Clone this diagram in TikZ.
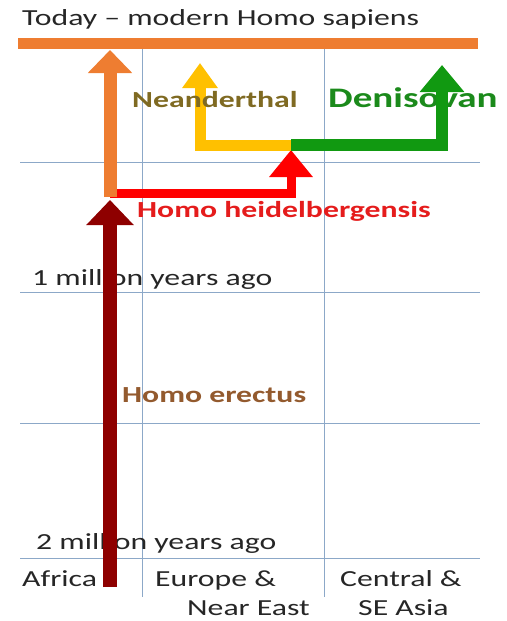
\documentclass[tikz,border=0pt]{standalone}
\usepackage{fontspec}
\setmainfont{Carlito}[FakeStretch=1.38]
\usetikzlibrary{arrows.meta}
\definecolor{gridblue}{HTML}{8CA8C8}
\definecolor{sapiens}{HTML}{EE7D31}
\definecolor{erectuscol}{HTML}{8E0000}
\definecolor{neandcol}{HTML}{FFC000}
\definecolor{denicol}{HTML}{119911}
\definecolor{neandtext}{HTML}{7F6A22}
\definecolor{denitext}{HTML}{1B8A1B}
\definecolor{erectustext}{HTML}{935A2E}
\definecolor{heideltext}{HTML}{E51C1C}

\begin{document}
\begin{tikzpicture}[x=1pt, y=-1pt,
  grid/.style={draw=gridblue, line width=0.8pt},
  lbl/.style={anchor=base west, inner sep=0pt, text=black!85,
    font=\fontsize{23}{27}\selectfont},
  tag/.style={anchor=base west, inner sep=0pt,
    font=\fontsize{23}{27}\selectfont\bfseries},
  branch/.style={line width=#1, line join=miter}
]
\useasboundingbox (0,0) rectangle (506,621);

% grid
\foreach \y in {162,292,423,558}
  \draw[grid] (20,\y) -- (480,\y);
\foreach \x in {142,324}
  \draw[grid] (\x,43) -- (\x,597);

% time and region labels
\node[lbl] (today) at (22,25) {Today – modern Homo sapiens};
\node[lbl] (mya1) at (32,285) {1 million years ago};
\node[lbl] (mya2) at (36,549) {2 million years ago};
\node[lbl] (africa) at (22,586) {Africa};
\node[lbl] (europe) at (155,586) {Europe \&};
\node[lbl] (neareast) at (187,615) {Near East};
\node[lbl] (central) at (340,586) {Central \&};
\node[lbl] (seasia) at (358,615) {SE Asia};
\node[tag, text=denitext, font=\fontsize{28.3}{32}\selectfont\bfseries]
  (deniso) at (328,107) {Denisovan};

% branch points
\coordinate (root) at (110,587);
\coordinate (split1) at (110,193);
\coordinate (split2) at (291,145);

% lineages
\draw[branch=11pt, sapiens] (18,43.5) -- (478,43.5);
\draw[branch=9pt, red, -{Triangle[length=27pt,width=42pt]}]
  (split1) -- (split2 |- split1) -- (291,150);
\draw[branch=13pt, sapiens, -{Triangle[length=23pt,width=43pt]}]
  (110,197) -- (110,50);
\draw[branch=14pt, erectuscol, -{Triangle[length=25pt,width=46pt]}]
  (root) -- (110,200);
\draw[branch=11pt, neandcol, -{Triangle[length=25pt,width=34pt]}]
  (split2) -- (200,145) -- (200,63);
\draw[branch=12pt, denicol, -{Triangle[length=27pt,width=43pt]}]
  (split2) -- (442,145) -- (442,65);

% species labels
\node[tag, text=neandtext] (neander) at (132,107) {Neanderthal};
\node[tag, text=heideltext] (heidel) at (137,217) {Homo heidelbergensis};
\node[tag, text=erectustext] (erectus) at (122,402) {Homo erectus};
\end{tikzpicture}
\end{document}
